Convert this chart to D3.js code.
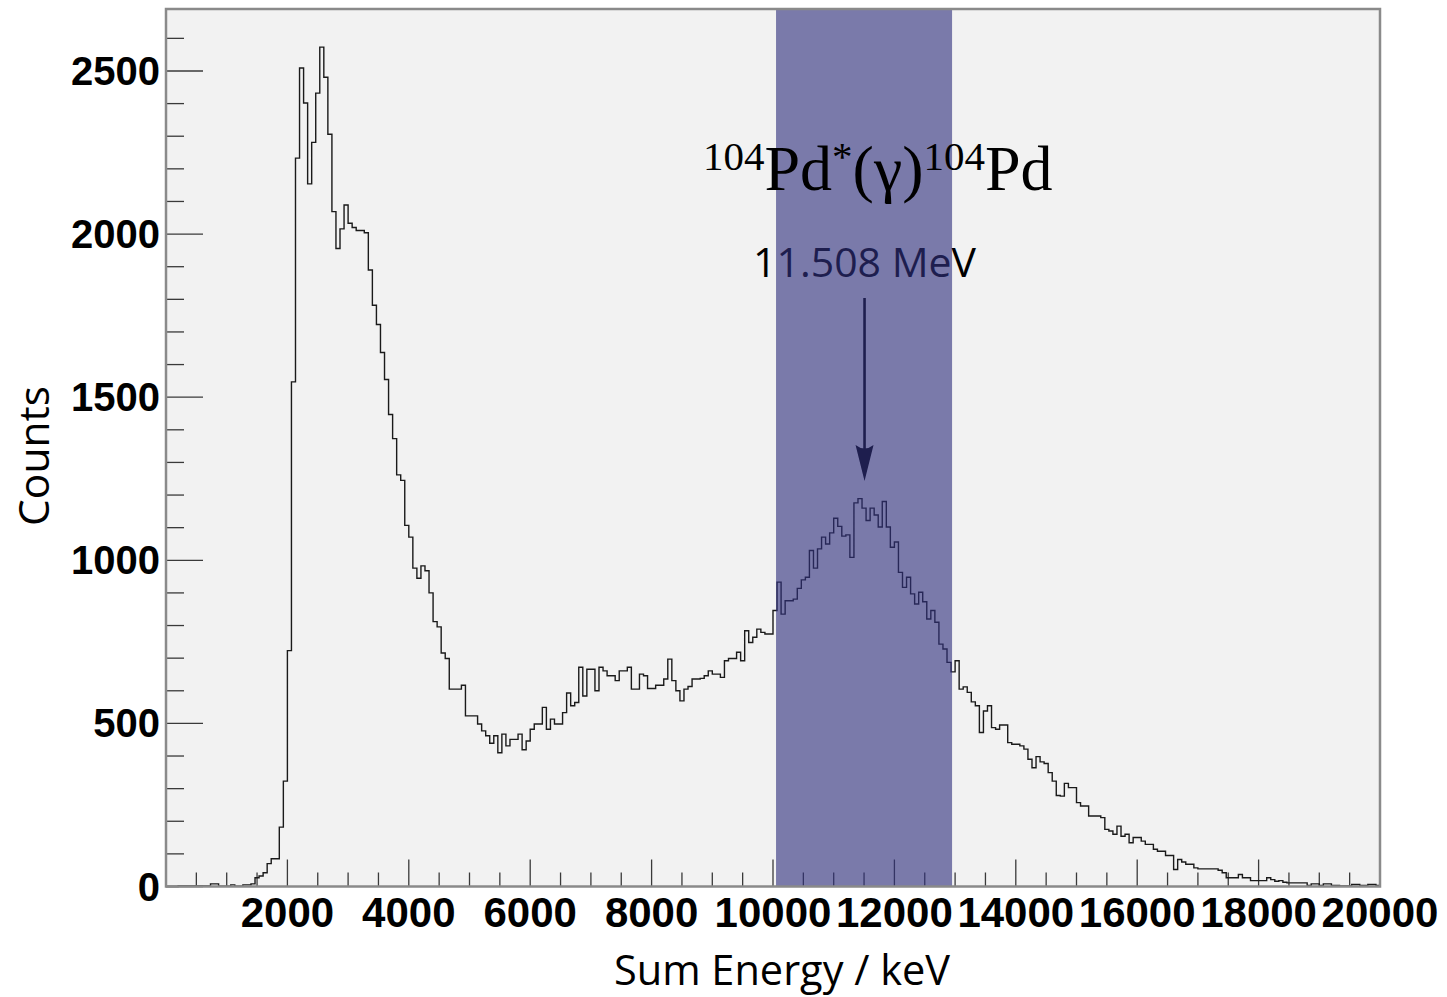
<!DOCTYPE html>
<html>
<head>
<meta charset="utf-8">
<script src="https://cdn.jsdelivr.net/npm/d3@7"></script>
<style>
  html, body { margin: 0; padding: 0; background: #ffffff; }
  svg { display: block; }
</style>
</head>
<body>
<svg id="chart" width="1447" height="997"></svg>
<script>
// Sum-energy spectrum: 300 bins over 0–20000 keV
const binWidth = 20000 / 300;
const counts = [
  0,0,0,2,2,2,2,2,2,2,
  2,8,8,1,1,1,5,1,1,5,
  5,8,27,32,42,70,85,85,182,323,
  723,1547,2233,2509,2402,2154,2281,2432,2573,2481,
  2306,2069,1956,2016,2089,2033,2020,2011,2011,2004,
  1890,1782,1723,1637,1554,1447,1373,1262,1245,1107,
  1071,976,945,983,968,900,812,796,716,699,
  605,605,605,617,523,523,523,498,477,462,
  439,462,410,467,431,451,451,467,419,446,
  482,498,498,549,482,513,498,498,533,593,
  554,564,672,584,666,666,600,672,661,646,
  646,631,661,661,672,605,605,651,646,607,
  607,617,617,636,697,631,600,569,605,613,
  636,636,638,646,661,651,651,641,692,699,
  699,718,692,784,748,764,789,779,774,774,
  846,933,835,876,876,881,914,940,948,1030,
  976,1035,1071,1050,1084,1129,1104,1074,1078,1009,
  1176,1189,1160,1122,1160,1139,1102,1180,1102,1040,
  1056,963,917,948,897,866,902,873,820,846,
  810,743,728,687,658,692,605,612,595,566,
  554,472,538,554,487,482,495,495,441,436,
  436,431,421,390,364,398,382,377,349,323,
  279,277,316,303,303,257,247,247,216,216,
  216,211,175,170,160,185,154,160,134,150,
  150,139,129,129,114,108,108,95,95,52,
  83,75,68,68,57,54,54,54,54,54,
  50,42,27,27,27,37,27,27,18,18,
  18,18,27,21,16,18,13,11,11,11,
  11,11,3,8,8,3,8,8,3,3,
  2,2,2,6,6,3,3,6,6,3
];

// Axis ticks
const xMajorTicks = [2000, 4000, 6000, 8000, 10000, 12000, 14000, 16000, 18000, 20000];
const xTickLabels = ["2000", "4000", "6000", "8000", "10000", "12000", "14000", "16000", "18000", "20000"];
const yMajorTicks = [0, 500, 1000, 1500, 2000, 2500];
const yTickLabels = ["0", "500", "1000", "1500", "2000", "2500"];

// Highlighted sum-energy window (keV) and the marked peak
const windowRange = [10050, 12950];
const peakEnergy = 11508;
const peakLabel = "11.508 MeV";

const xMax = 20000, yMax = 2690;

const svg = d3.select("#chart");
const plotLeft = 166, plotRight = 1380, plotTop = 9, plotBottom = 886.5;

const x = d3.scaleLinear().domain([0, xMax]).range([plotLeft, plotRight]);
const y = d3.scaleLinear().domain([0, yMax]).range([plotBottom, plotTop]);

// Plot background
svg.append("rect")
  .attr("x", plotLeft).attr("y", plotTop)
  .attr("width", plotRight - plotLeft).attr("height", plotBottom - plotTop)
  .attr("fill", "#f2f2f2");

// Ticks drawn inside the frame
const tickG = svg.append("g").attr("stroke", "#3a3a3a").attr("stroke-width", 1.3);
d3.range(0, 2601, 100).forEach(v => {
  const major = v % 500 === 0;
  tickG.append("line")
    .attr("x1", plotLeft).attr("x2", plotLeft + (major ? 37 : 18))
    .attr("y1", y(v)).attr("y2", y(v));
});
d3.range(500, 20000, 500).forEach(v => {
  const major = v % 2000 === 0;
  tickG.append("line")
    .attr("x1", x(v)).attr("x2", x(v))
    .attr("y1", plotBottom).attr("y2", plotBottom - (major ? 27 : 14));
});

// Histogram as a step line
const pts = counts.map((c, i) => [i * binWidth, c]);
pts.push([counts.length * binWidth, counts[counts.length - 1]]);
const line = d3.line()
  .x(d => x(d[0]))
  .y(d => y(d[1]))
  .curve(d3.curveStepAfter);
svg.append("path")
  .datum(pts)
  .attr("d", line)
  .attr("fill", "none")
  .attr("stroke", "#1a1a1a")
  .attr("stroke-width", 1.4);

// Peak label and arrow (under the window shading)
const px = x(peakEnergy);
svg.append("text")
  .attr("x", px).attr("y", 277)
  .attr("text-anchor", "middle")
  .attr("font-family", "'Open Sans', sans-serif")
  .attr("font-size", 41)
  .attr("fill", "#000")
  .text(peakLabel);
svg.append("line")
  .attr("x1", px).attr("x2", px)
  .attr("y1", 298).attr("y2", 460)
  .attr("stroke", "#000").attr("stroke-width", 2.6);
svg.append("path")
  .attr("d", `M${px},481 L${px - 9},445 Q${px},452 ${px + 9},445 Z`)
  .attr("fill", "#000");

// Shaded energy window
svg.append("rect")
  .attr("x", x(windowRange[0])).attr("y", plotTop)
  .attr("width", x(windowRange[1]) - x(windowRange[0]))
  .attr("height", plotBottom - plotTop)
  .attr("fill", "rgb(48,48,126)")
  .attr("fill-opacity", 0.62);

// Reaction label
const title = svg.append("text")
  .attr("x", 703).attr("y", 190)
  .attr("font-family", "'Liberation Serif', 'Times New Roman', serif")
  .attr("font-size", 64)
  .attr("fill", "#000");
title.append("tspan").attr("font-size", 41).attr("dy", -20).text("104");
title.append("tspan").attr("dy", 20).text("Pd");
title.append("tspan").attr("font-size", 41).attr("dy", -20).text("*");
title.append("tspan").attr("dy", 20).text("(γ)");
title.append("tspan").attr("font-size", 41).attr("dy", -20).text("104");
title.append("tspan").attr("dy", 20).text("Pd");

// Frame
svg.append("rect")
  .attr("x", plotLeft).attr("y", plotTop)
  .attr("width", plotRight - plotLeft).attr("height", plotBottom - plotTop)
  .attr("fill", "none")
  .attr("stroke", "#8a8a8a")
  .attr("stroke-width", 2.5);

// Tick labels
const labelFont = "'Liberation Sans', Arial, sans-serif";
svg.append("g").selectAll("text")
  .data(yMajorTicks)
  .join("text")
  .attr("x", 160)
  .attr("y", d => y(d) + 14)
  .attr("text-anchor", "end")
  .attr("font-family", labelFont)
  .attr("font-weight", "bold")
  .attr("font-size", 40)
  .attr("fill", "#000")
  .text((d, i) => yTickLabels[i]);

svg.append("g").selectAll("text")
  .data(xMajorTicks)
  .join("text")
  .attr("x", d => x(d))
  .attr("y", 927)
  .attr("text-anchor", "middle")
  .attr("font-family", labelFont)
  .attr("font-weight", "bold")
  .attr("font-size", 42)
  .attr("fill", "#000")
  .text((d, i) => xTickLabels[i]);

// Axis titles
svg.append("text")
  .attr("x", 782).attr("y", 985)
  .attr("text-anchor", "middle")
  .attr("font-family", "'Open Sans', sans-serif")
  .attr("font-size", 41.5)
  .attr("fill", "#000")
  .text("Sum Energy / keV");

svg.append("text")
  .attr("transform", "translate(49,456) rotate(-90)")
  .attr("text-anchor", "middle")
  .attr("font-family", "'Open Sans', sans-serif")
  .attr("font-size", 42.5)
  .attr("fill", "#000")
  .text("Counts");
</script>
</body>
</html>
